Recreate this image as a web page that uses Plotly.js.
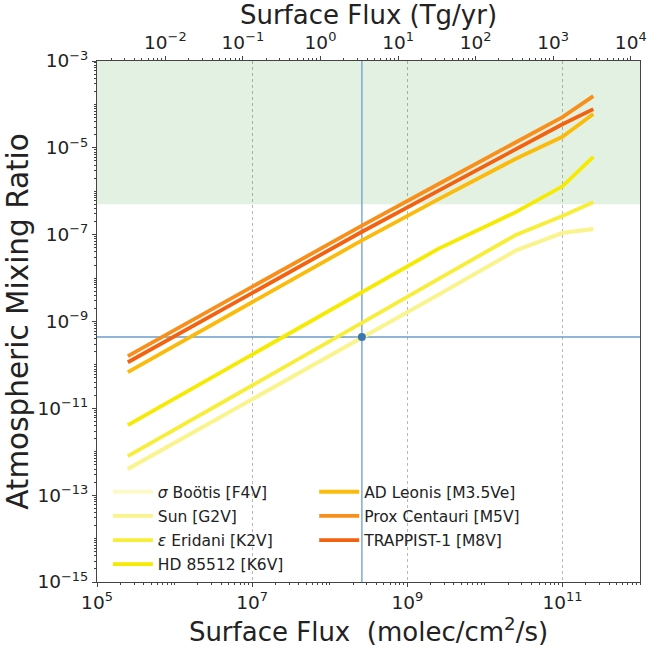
<!DOCTYPE html>
<html><head><meta charset="utf-8">
<script src="https://cdn.plot.ly/plotly-3.0.1.min.js"></script>
<style>html,body{margin:0;padding:0;background:#fff}#chart{width:647px;height:650px}</style>
</head><body><div id="chart"></div>
<script>
// Surface flux grid (molec/cm^2/s)
const fluxX = [2.5e5, 2.5e6, 2.5e7, 2.5e8, 2.5e9, 2.5e10, 1e11, 2.5e11];
// Atmospheric mixing ratio per star
const sigmaBoo = [4.0e-13, 4.0e-12, 4.0e-11, 4.0e-10, 4.1e-9, 4.3e-8, 1.1e-7, 1.35e-7];
const sunG2V   = [4.0e-13, 4.0e-12, 4.0e-11, 4.0e-10, 4.1e-9, 4.3e-8, 1.1e-7, 1.35e-7];
const epsEri   = [7.9e-13, 8.1e-12, 8.5e-11, 8.9e-10, 9.5e-9, 9.8e-8, 2.7e-7, 5.6e-7];
const hd85512  = [4.1e-12, 4.3e-11, 4.3e-10, 4.5e-9, 4.7e-8, 3.3e-7, 1.3e-6, 6.2e-6];
const adLeo    = [6.8e-11, 6.9e-10, 6.9e-9, 7.1e-8, 6.5e-7, 5.6e-6, 1.8e-5, 6.0e-5];
const proxCen  = [1.6e-10, 1.6e-9, 1.6e-8, 1.55e-7, 1.45e-6, 1.3e-5, 5.1e-5, 1.55e-4];
const trappist = [1.15e-10, 1.15e-9, 1.15e-8, 1.12e-7, 1.02e-6, 9.3e-6, 3.5e-5, 7.8e-5];

const starNames = ['<i>σ</i> Boötis [F4V]', 'Sun [G2V]', '<i>ε</i> Eridani [K2V]', 'HD 85512 [K6V]',
                   'AD Leonis [M3.5Ve]', 'Prox Centauri [M5V]', 'TRAPPIST-1 [M8V]'];
const starSeries = [sigmaBoo, sunG2V, epsEri, hd85512, adLeo, proxCen, trappist];
const starColors = ['#fcf8c8', '#faf48c', '#f7ee3a', '#f5ea00', '#fbbb0c', '#f78f1a', '#f2620f'];

// Axis ticks
const xTickVals = [1e5, 1e7, 1e9, 1e11];
const xTickText = ['10<sup>5</sup>', '10<sup>7</sup>', '10<sup>9</sup>', '10<sup>11</sup>'];
const yTickVals = [1e-15, 1e-13, 1e-11, 1e-9, 1e-7, 1e-5, 1e-3];
const yTickText = ['10<sup>−15</sup>', '10<sup>−13</sup>', '10<sup>−11</sup>', '10<sup>−9</sup>',
                   '10<sup>−7</sup>', '10<sup>−5</sup>', '10<sup>−3</sup>'];
const topTickVals = [1e-2, 1e-1, 1e0, 1e1, 1e2, 1e3, 1e4];
const topTickText = ['10<sup>−2</sup>', '10<sup>−1</sup>', '10<sup>0</sup>', '10<sup>1</sup>',
                     '10<sup>2</sup>', '10<sup>3</sup>', '10<sup>4</sup>'];

// Reference values
const detectLimit = 5e-7;      // shaded region lower bound
const markFlux = 2.6e8;        // vertical marker
const markMix = 4.4e-10;       // horizontal marker
const fluxPerTg = 7.6e7;       // molec/cm^2/s per Tg/yr
const xRange = [1e5, 1e12];
const yRange = [1e-15, 1e-3];

const lt = Math.log10(fluxPerTg);
const xRangeLog = xRange.map(Math.log10);
const yRangeLog = yRange.map(Math.log10);

const traces = [];
traces.push({
  x: [xRange[0], xRange[1], xRange[1], xRange[0], xRange[0]],
  y: [detectLimit, detectLimit, yRange[1], yRange[1], detectLimit],
  type: 'scatter', mode: 'lines', fill: 'toself', fillcolor: 'rgba(0,128,0,0.11)',
  line: {width: 0}, showlegend: false, hoverinfo: 'skip'
});
traces.push({
  x: [markFlux, markFlux], y: yRange, type: 'scatter', mode: 'lines',
  line: {color: '#6d9cc9', width: 1.3}, showlegend: false, hoverinfo: 'skip'
});
traces.push({
  x: xRange, y: [markMix, markMix], type: 'scatter', mode: 'lines',
  line: {color: '#6d9cc9', width: 1.3}, showlegend: false, hoverinfo: 'skip'
});
starSeries.forEach((ys, i) => traces.push({
  x: fluxX, y: ys, type: 'scatter', mode: 'lines', name: starNames[i],
  line: {color: starColors[i], width: 3.8},
  legend: i < 4 ? 'legend' : 'legend2',
  legendgroup: 'g' + i,
  hoverinfo: 'skip'
}));
traces.push({
  x: [markFlux], y: [markMix], type: 'scatter', mode: 'markers',
  marker: {color: '#3b78b0', size: 8}, showlegend: false, hoverinfo: 'skip'
});
traces.push({
  x: [xRange[0] / fluxPerTg, xRange[1] / fluxPerTg], y: [null, null],
  xaxis: 'x2', type: 'scatter', mode: 'markers', showlegend: false, hoverinfo: 'skip'
});

const axLine = '#444';
const tickFont = {size: 18.5, color: '#222'};
const titleFont = {size: 26, color: '#222'};
const minorTicks = {ticks: 'outside', ticklen: 2, tickcolor: axLine, dtick: 'D1', showgrid: false};
const layout = {
  width: 647, height: 650,
  margin: {l: 97, r: 7, t: 61, b: 68},
  paper_bgcolor: '#fff', plot_bgcolor: '#fff',
  font: {family: 'DejaVu Sans, sans-serif', color: '#222', size: 15},
  showlegend: true,
  xaxis: {
    type: 'log', range: xRangeLog, tickmode: 'array', tickvals: xTickVals, ticktext: xTickText,
    ticks: 'outside', ticklen: 4, tickcolor: axLine, tickfont: tickFont,
    showline: true, linecolor: axLine, linewidth: 1, zeroline: false,
    showgrid: true, gridcolor: '#b8b8b8', griddash: 'dot', gridwidth: 1,
    minor: minorTicks,
    title: {text: 'Surface Flux  (molec/cm<sup>2</sup>/s)', font: titleFont, standoff: 4}
  },
  xaxis2: {
    type: 'log', overlaying: 'x', side: 'top', anchor: 'y',
    range: [xRangeLog[0] - lt, xRangeLog[1] - lt],
    tickmode: 'array', tickvals: topTickVals, ticktext: topTickText,
    ticks: 'outside', ticklen: 4, tickcolor: axLine, tickfont: tickFont,
    showline: true, linecolor: axLine, linewidth: 1, showgrid: false, zeroline: false,
    minor: minorTicks,
    title: {text: 'Surface Flux (Tg/yr)', font: titleFont, standoff: 1}
  },
  yaxis: {
    type: 'log', range: yRangeLog, tickmode: 'array', tickvals: yTickVals, ticktext: yTickText,
    ticks: 'outside', ticklen: 4, tickcolor: axLine, tickfont: tickFont,
    showline: true, linecolor: axLine, linewidth: 1, mirror: true, zeroline: false,
    showgrid: false,
    minor: minorTicks,
    title: {text: 'Atmospheric Mixing Ratio', font: {size: 29.5, color: '#222'}, standoff: 0}
  },
  legend: {
    x: 0.02, y: 0.205, xanchor: 'left', yanchor: 'top', bgcolor: 'rgba(0,0,0,0)',
    font: {size: 15.5, color: '#222'}, traceorder: 'grouped', tracegroupgap: 1, itemwidth: 40
  },
  legend2: {
    x: 0.4, y: 0.205, xanchor: 'left', yanchor: 'top', bgcolor: 'rgba(0,0,0,0)',
    font: {size: 15.5, color: '#222'}, traceorder: 'grouped', tracegroupgap: 1, itemwidth: 40
  }
};
Plotly.newPlot('chart', traces, layout, {displayModeBar: false, staticPlot: true});
</script></body></html>
